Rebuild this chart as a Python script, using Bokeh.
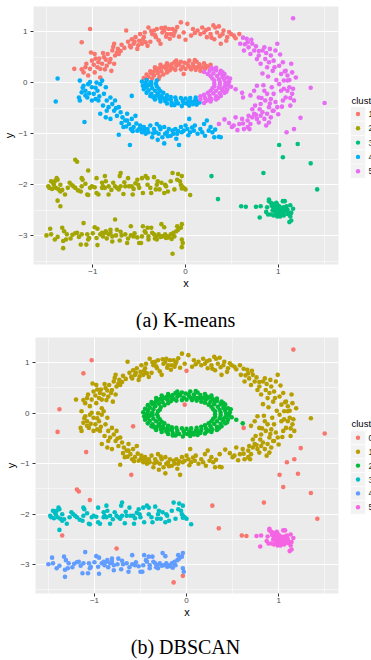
from bokeh.plotting import figure
from bokeh.layouts import column, row
from bokeh.models import FixedTicker, Range1d
from bokeh.embed import file_html
from bokeh.resources import INLINE
from bokeh.core.properties import value

# ---------------- data (x, y) ----------------
outer_ring_k1 = [(-1.20,0.27),(-1.10,0.20),(-1.05,0.14),(-1.07,0.37),(-1.01,0.43),(-1.02,0.59),(-0.98,0.56),(-0.95,0.30),(-0.94,0.40),(-0.92,0.27),(-0.90,0.37),(-0.88,0.50),(-0.85,0.33),(-0.84,0.56),(-0.81,0.46),(-0.79,0.63),(-0.77,0.76),(-0.76,0.53),(-0.74,0.59),(-0.72,0.56),(-0.77,0.37),(-0.80,0.23),(-0.92,0.10),(-0.98,0.20),(-1.03,0.27),(-0.64,1.02),(-0.59,0.69),(-0.58,0.85),(-0.56,0.76),(-0.54,0.89),(-0.52,0.66),(-0.50,0.82),(-0.49,0.95),(-0.47,0.76),(-0.45,0.89),(-0.43,0.79),(-0.41,0.72),(-0.40,1.08),(-0.36,0.95),(-0.34,1.02),(-0.32,0.89),(-0.31,1.05),(-0.27,0.76),(-0.23,1.02),(-0.22,1.08),(-0.20,0.95),(-0.18,1.05),(-0.16,0.95),(-0.14,1.05),(-0.13,0.92),(-0.11,1.02),(-0.05,1.18),(-0.02,0.98),(0.02,1.15),(0.13,1.02),(0.16,0.95),(0.20,0.98),(0.23,0.89),(0.25,1.05),(0.27,0.95),(0.30,1.12),(0.32,1.08),(0.31,0.85),(0.34,0.98),(0.38,0.76),(0.40,0.95),(0.41,1.02),(0.45,0.89),(0.49,0.95),(0.52,0.92),(0.58,0.95),(-0.60,0.72),(-0.55,0.80),(-0.46,0.84),(-0.38,0.80),(-0.33,0.93),(-0.25,0.98),(-0.21,0.90),(-0.12,0.98),(-0.86,0.45),(-0.93,0.47),(-0.70,0.62),(-0.78,0.70),(-0.66,0.68),(0.08,1.05),(0.18,1.08),(0.36,1.10),(0.44,0.82),(0.06,0.92),(-0.07,0.90),(-1.12,0.26),(-0.99,0.35),(-0.87,0.26),(-0.62,0.80),(-0.44,0.98),(-0.29,0.83),(-0.17,0.86),(-0.09,1.09),(0.10,0.97),(0.22,1.03),(0.28,0.88),(0.37,0.91),(0.47,0.99),(-0.69,0.74),(-0.89,0.58),(-0.97,0.47),(-1.08,0.30),(-0.82,0.40),(-0.73,0.66),(-0.51,0.73),(-0.37,1.01),(0.54,0.87),(-0.26,1.07)]

outer_ring_k4 = [(-1.14,0.04),(-1.12,-0.19),(-1.10,-0.06),(-1.08,-0.16),(-1.06,-0.29),(-1.05,-0.03),(-1.03,0.01),(-1.01,-0.09),(-0.99,-0.22),(-0.97,-0.32),(-0.95,-0.16),(-0.94,-0.35),(-0.92,-0.03),(-0.90,0.04),(-0.88,-0.22),(-0.86,-0.09),(-0.85,-0.35),(-0.83,-0.48),(-0.81,-0.29),(-0.79,-0.42),(-0.77,-0.55),(-0.76,-0.35),(-0.74,-0.65),(-0.72,-0.48),(-0.70,-0.58),(-0.68,-0.68),(-0.67,-0.87),(-0.65,-0.74),(-0.63,-0.61),(-0.61,-0.81),(-0.59,-0.91),(-0.58,-0.71),(-0.56,-0.87),(-0.54,-0.65),(-0.52,-0.94),(-0.50,-0.91),(-0.49,-0.84),(-0.47,-0.97),(-0.45,-0.87),(-0.43,-1.00),(-0.41,-0.91),(-0.40,-0.97),(-0.38,-0.84),(-0.36,-1.07),(-0.34,-0.91),(-0.32,-0.97),(-0.31,-0.81),(-0.29,-1.00),(-0.27,-0.91),(-0.25,-1.07),(-0.23,-0.87),(-0.22,-1.00),(-0.20,-0.97),(-0.18,-0.91),(-0.16,-1.04),(-0.14,-0.94),(-0.13,-1.00),(-0.11,-0.91),(-0.09,-1.00),(-0.05,-0.87),(-0.04,-0.97),(-0.02,-0.94),(0.00,-0.84),(0.02,-0.91),(0.04,-0.71),(0.05,-0.97),(0.09,-0.94),(0.13,-1.00),(0.16,-0.91),(0.20,-0.81),(0.23,-0.74),(0.25,-0.94),(0.27,-0.87),(0.29,-0.97),(0.31,-1.07),(0.36,-1.06),(0.38,-1.07),(-0.92,-0.61),(-0.86,-0.68),(-0.85,-0.55),(-0.81,-0.71),(-1.14,-0.35),(-1.15,-0.29),(-1.01,-0.35),(-0.23,-1.19),(-0.07,-1.22),(-0.72,-1.02),(-0.47,-0.90),(-0.10,-1.10),(-0.30,-1.12),(0.10,-0.84),(-0.63,-0.74),(-0.97,-0.10),(-1.08,-0.25),(-1.04,-0.21),(-0.93,-0.27),(-0.89,-0.45),(-0.75,-0.50),(-0.69,-0.79),(-0.57,-0.95),(-0.53,-0.80),(-0.44,-0.93),(-0.35,-0.99),(-0.28,-0.86),(-0.19,-1.05),(-0.08,-0.95),(0.03,-1.03),(0.07,-0.88),(0.18,-0.97),(0.32,-0.92),(-0.64,-0.86),(-1.11,-0.10),(-0.96,0.00),(0.21,-1.04)]

outer_ring_k5 = [(0.59,0.76),(0.63,0.63),(0.67,0.79),(0.68,0.69),(0.70,0.56),(0.72,0.76),(0.74,0.63),(0.77,0.46),(0.79,0.53),(0.81,0.37),(0.83,0.63),(0.85,0.69),(0.86,0.46),(0.88,0.30),(0.90,0.40),(0.92,0.53),(0.94,0.23),(0.95,0.43),(0.97,0.63),(0.99,0.76),(1.01,0.33),(1.03,0.17),(1.05,0.40),(1.06,0.04),(1.08,0.23),(1.10,0.14),(1.12,-0.09),(1.14,0.37),(1.15,-0.22),(1.17,-0.35),(1.19,0.10),(0.74,-0.16),(0.77,-0.06),(0.79,-0.29),(0.81,-0.42),(0.85,-0.16),(0.86,-0.35),(0.88,-0.22),(0.90,-0.48),(0.92,-0.32),(0.94,-0.55),(0.95,-0.22),(0.97,-0.38),(0.99,-0.48),(1.01,-0.03),(1.03,-0.16),(1.05,-0.35),(1.06,-0.12),(1.08,-0.29),(1.10,-0.16),(0.54,-0.68),(0.58,-0.81),(0.61,-0.71),(0.63,-0.91),(0.67,-0.74),(0.68,-0.65),(0.70,-0.81),(0.72,-0.68),(0.74,-0.61),(0.77,-0.71),(0.79,-0.78),(0.81,-0.65),(0.83,-0.58),(0.85,-0.71),(0.88,-0.61),(0.92,-0.68),(0.36,-0.81),(0.42,-0.72),(0.50,-0.87),(0.52,-0.84),(0.67,-0.87),(0.90,-0.78),(0.95,-0.55),(1.35,-0.10),(1.10,0.04),(0.75,-0.45),(0.84,-0.05),(0.98,0.05),(0.89,0.12),(0.80,-0.52),(0.93,-0.09),(1.13,-0.45),(1.00,-0.62),(0.72,-0.52),(0.66,0.86),(0.76,0.71),(0.64,0.75),(0.87,0.58),(0.62,0.88),(0.71,0.84),(0.79,0.62),(0.91,0.66),(1.02,0.55),(1.07,0.22),(1.15,0.20),(1.12,0.05),(0.96,0.30),(0.83,0.18),(1.16,-0.12),(1.04,-0.47),(0.91,-0.41),(0.82,-0.30),(0.69,-0.91),(0.62,-0.80),(0.47,-0.79),(0.56,-0.93),(0.87,-0.84),(0.76,-0.63),(1.13,-0.30),(0.70,-0.25)]

inner_ring_k1 = [(0.21,0.27),(0.27,0.35),(0.16,0.23),(0.22,0.33),(0.15,0.30),(0.20,0.38),(0.11,0.25),(0.15,0.36),(0.09,0.31),(0.12,0.41),(0.06,0.26),(0.08,0.37),(0.03,0.33),(0.04,0.43),(0.00,0.27),(-0.01,0.39),(-0.03,0.31),(-0.05,0.41),(-0.05,0.26),(-0.08,0.37),(-0.10,0.33),(-0.12,0.40),(-0.11,0.25),(-0.15,0.36),(-0.16,0.30),(-0.20,0.38),(-0.17,0.24),(-0.22,0.32),(-0.21,0.27),(-0.27,0.35),(-0.20,0.20),(-0.28,0.28),(-0.26,0.22),(-0.33,0.30),(-0.24,0.16),(-0.33,0.24),(-0.30,0.19),(-0.38,0.22),(-0.28,0.12),(-0.37,0.18),(-0.34,0.14),(-0.42,0.16),(-0.29,0.07),(-0.40,0.11),(-0.36,0.08),(-0.45,0.09),(0.12,0.30),(-0.07,0.35),(-0.18,0.33),(0.02,0.37),(-0.25,0.30),(-0.35,0.20),(0.18,0.30),(-0.10,0.43),(0.10,0.44),(-0.30,0.27),(-0.42,0.06),(0.05,0.30),(-0.14,0.28),(0.24,0.31)]

inner_ring_k4 = [(-0.31,0.04),(-0.42,0.05),(-0.37,0.01),(-0.47,0.02),(-0.32,-0.02),(-0.43,-0.01),(-0.37,-0.04),(-0.46,-0.06),(-0.31,-0.07),(-0.42,-0.08),(-0.36,-0.11),(-0.45,-0.13),(-0.29,-0.12),(-0.40,-0.15),(-0.33,-0.16),(-0.42,-0.20),(-0.27,-0.17),(-0.37,-0.22),(-0.30,-0.21),(-0.38,-0.26),(-0.24,-0.20),(-0.33,-0.27),(-0.26,-0.26),(-0.33,-0.33),(-0.20,-0.25),(-0.28,-0.31),(-0.21,-0.30),(-0.27,-0.37),(-0.16,-0.28),(-0.22,-0.36),(-0.16,-0.33),(-0.20,-0.41),(-0.11,-0.29),(-0.15,-0.39),(-0.10,-0.35),(-0.12,-0.44),(-0.05,-0.30),(-0.08,-0.41),(-0.03,-0.36),(-0.04,-0.46),(0.00,-0.31),(0.01,-0.41),(0.03,-0.37),(0.04,-0.45),(0.05,-0.30),(0.08,-0.42),(0.10,-0.35),(0.12,-0.43),(0.11,-0.29),(0.15,-0.39),(-0.40,-0.05),(-0.35,-0.28),(-0.10,-0.40),(0.06,-0.38),(-0.20,-0.33),(-0.44,-0.10),(-0.25,-0.30),(0.12,-0.36),(-0.38,0.00),(-0.15,-0.44),(-0.02,-0.40),(-0.30,-0.25)]

inner_ring_k5 = [(0.16,-0.33),(0.20,-0.40),(0.16,-0.27),(0.22,-0.36),(0.21,-0.30),(0.27,-0.37),(0.20,-0.24),(0.28,-0.32),(0.26,-0.26),(0.33,-0.33),(0.24,-0.20),(0.33,-0.27),(0.30,-0.21),(0.38,-0.26),(0.27,-0.16),(0.37,-0.21),(0.33,-0.16),(0.42,-0.20),(0.29,-0.11),(0.40,-0.15),(0.36,-0.10),(0.45,-0.13),(0.31,-0.07),(0.42,-0.08),(0.37,-0.04),(0.46,-0.05),(0.31,-0.02),(0.43,-0.01),(0.37,0.01),(0.47,0.02),(0.31,0.04),(0.42,0.05),(0.36,0.07),(0.45,0.10),(0.29,0.08),(0.40,0.12),(0.34,0.13),(0.42,0.17),(0.27,0.13),(0.37,0.18),(0.30,0.18),(0.38,0.23),(0.24,0.17),(0.33,0.24),(0.26,0.23),(0.33,0.29),(0.20,0.21),(0.28,0.29),(0.44,-0.18),(0.35,-0.30),(0.48,0.08),(0.40,0.20),(0.25,-0.34),(0.30,0.26),(0.46,-0.02),(0.39,-0.12),(0.54,-0.13),(0.61,-0.20),(0.49,-0.08),(0.41,0.09)]

band_upper = [(-1.48,-2.03),(-1.47,-2.06),(-1.45,-1.93),(-1.43,-1.96),(-1.42,-2.00),(-1.41,-1.93),(-1.39,-1.87),(-1.38,-1.90),(-1.40,-2.06),(-1.37,-2.09),(-1.35,-2.13),(-1.35,-2.00),(-1.30,-2.19),(-1.27,-2.06),(-1.25,-1.96),(-1.23,-2.00),(-1.21,-2.03),(-1.19,-2.06),(-1.12,-1.87),(-1.11,-1.90),(-1.12,-2.03),(-1.13,-2.13),(-1.06,-2.19),(-1.05,-2.20),(-1.03,-2.06),(-1.01,-2.03),(-0.96,-1.87),(-0.96,-2.16),(-0.94,-2.19),(-0.90,-1.96),(-0.90,-2.06),(-0.89,-2.03),(-0.87,-1.83),(-0.86,-1.93),(-0.87,-2.06),(-0.83,-2.03),(-0.83,-2.19),(-0.78,-1.96),(-0.76,-2.03),(-0.74,-2.06),(-0.72,-2.09),(-0.71,-1.83),(-0.70,-1.77),(-0.70,-2.03),(-0.67,-2.18),(-0.65,-2.03),(-0.62,-1.87),(-0.61,-2.03),(-0.58,-2.03),(-0.56,-2.08),(-0.57,-2.19),(-1.38,-2.31),(-0.52,-1.90),(-0.51,-2.00),(-0.50,-2.06),(-0.47,-1.87),(-0.46,-2.16),(-0.43,-1.83),(-0.41,-1.87),(-0.41,-2.00),(-0.38,-2.06),(-0.37,-2.16),(-0.34,-1.85),(-0.32,-2.09),(-0.31,-2.00),(-0.30,-1.93),(-0.28,-2.09),(-0.23,-2.16),(-0.22,-2.00),(-0.21,-2.03),(-0.19,-2.13),(-0.16,-1.93),(-0.14,-1.77),(-0.12,-2.09),(-0.09,-1.90),(-0.08,-1.79),(-0.06,-1.93),(-0.05,-2.00),(-0.04,-2.03),(-0.04,-2.07),(-0.02,-2.06),(0.00,-2.09),(0.05,-2.20),(-0.04,-1.83),(-1.44,-2.08),(-1.33,-2.10),(-0.98,-2.05),(-0.80,-2.10),(-0.66,-1.95),(-0.54,-1.97),(-0.26,-1.96),(-1.16,-2.11),(-1.08,-1.98)]

band_lower = [(-1.50,-2.99),(-1.45,-2.97),(-1.46,-2.86),(-1.41,-3.07),(-1.33,-2.84),(-1.31,-2.91),(-1.28,-2.97),(-1.29,-3.07),(-1.32,-3.10),(-1.32,-3.24),(-1.24,-3.05),(-1.19,-2.95),(-1.17,-2.94),(-1.12,-2.97),(-1.13,-3.17),(-1.10,-2.75),(-1.06,-2.97),(-1.07,-3.17),(-1.04,-3.04),(-1.05,-3.07),(-0.98,-2.83),(-0.95,-2.86),(-0.96,-3.04),(-0.95,-3.18),(-0.92,-2.97),(-0.90,-2.94),(-0.89,-3.01),(-0.87,-2.94),(-0.86,-2.91),(-0.83,-2.97),(-0.81,-2.88),(-0.81,-2.94),(-0.79,-3.01),(-0.79,-3.11),(-0.74,-2.88),(-0.75,-2.99),(-0.71,-3.09),(-0.69,-2.99),(-0.63,-3.14),(-0.65,-2.97),(-0.59,-2.81),(-0.59,-2.99),(-0.56,-3.01),(-0.52,-3.03),(-0.50,-3.14),(-0.48,-3.14),(-0.47,-3.01),(-0.46,-2.81),(-0.44,-2.91),(-0.43,-2.94),(-0.41,-2.84),(-0.40,-3.01),(-0.40,-3.07),(-0.37,-2.84),(-0.36,-2.94),(-0.34,-2.97),(-0.33,-3.05),(-0.32,-3.01),(-0.31,-3.07),(-0.29,-2.97),(-0.26,-2.77),(-0.23,-2.83),(-0.25,-3.01),(-0.22,-2.97),(-0.21,-3.04),(-0.20,-3.01),(-0.18,-3.03),(-0.16,-2.97),(-0.14,-2.97),(-0.13,-2.94),(-0.12,-3.01),(-0.10,-2.91),(-0.09,-2.81),(-0.08,-2.88),(-0.05,-2.84),(-0.04,-2.77),(-0.04,-3.07),(-0.03,-3.14),(-1.38,-3.02),(-1.22,-2.98),(-1.00,-2.95),(-0.85,-3.05),(-0.70,-2.92),(-0.55,-2.95),(-0.27,-3.02),(-0.15,-3.06),(-1.15,-3.02),(-0.62,-3.05)]

blob = [(0.90,-2.29),(0.90,-2.32),(0.92,-2.35),(0.94,-2.37),(0.96,-2.39),(0.98,-2.35),(0.99,-2.39),(1.05,-2.32),(1.07,-2.32),(0.95,-2.45),(0.97,-2.42),(0.99,-2.44),(1.01,-2.42),(1.03,-2.45),(0.88,-2.44),(0.87,-2.53),(0.89,-2.58),(0.92,-2.58),(0.96,-2.52),(0.98,-2.55),(0.99,-2.62),(1.01,-2.55),(1.03,-2.58),(1.05,-2.55),(1.06,-2.60),(1.08,-2.45),(1.10,-2.49),(1.10,-2.57),(1.12,-2.55),(1.13,-2.40),(1.14,-2.55),(1.13,-2.62),(1.16,-2.47),(1.12,-2.73),(1.14,-2.70),(0.81,-2.42),(0.76,-2.43),(0.80,-2.64),(0.94,-2.50),(1.00,-2.48),(1.04,-2.50),(0.97,-2.47),(1.02,-2.62),(1.07,-2.52),(0.93,-2.41),(1.09,-2.42),(0.95,-2.60),(1.06,-2.44)]

# DBSCAN noise points (cluster 0), split by the K-means cluster they got
noise_k1 = [(-1.03,1.05),(-1.12,0.79),(-0.02,0.17),(0.00,0.84)]
noise_k2 = [(-1.19,-1.51),(-1.17,-1.55),(-1.05,-1.72),(-1.35,-2.42),(-0.76,-2.68),(-0.14,-3.35),(-0.04,-3.22)]
noise_k3 = [(1.01,-1.22),(1.21,-1.20),(1.05,-1.46),(1.35,-1.58),(1.42,-2.09),(0.84,-1.77),(0.28,-1.83),(0.35,-2.28),(0.60,-2.42),(0.65,-2.43)]
noise_k4 = [(-1.38,0.08),(-1.40,-0.37),(-1.09,-0.77),(-0.58,-0.26),(-0.60,-1.22)]
noise_k5 = [(0.62,-0.29),(1.16,1.26),(1.50,-0.40),(1.24,-0.69),(1.17,-0.91),(1.09,-0.97)]

kmeans_labels = ["1", "2", "3", "4", "5"]
kmeans_colors = ["#F8766D", "#A3A500", "#00BF7D", "#00B0F6", "#E76BF3"]
dbscan_labels = ["0", "1", "2", "3", "4", "5"]
dbscan_colors = ["#F8766D", "#B79F00", "#00BA38", "#00BFC4", "#619CFF", "#F564E3"]

x_ticks = [-1, 0, 1]
x_minor = [-1.5, -0.5, 0.5, 1.5]
y_ticks = [-3, -2, -1, 0, 1]
y_minor = [-3.5, -2.5, -1.5, -0.5, 0.5]

legend_title = "cluster"
captions = ["(a) K-means", "(b) DBSCAN"]

kmeans_groups = [
    outer_ring_k1 + inner_ring_k1 + noise_k1,
    band_upper + band_lower + noise_k2,
    blob + noise_k3,
    outer_ring_k4 + inner_ring_k4 + noise_k4,
    outer_ring_k5 + inner_ring_k5 + noise_k5,
]
dbscan_groups = [
    noise_k1 + noise_k2 + noise_k3 + noise_k4 + noise_k5,
    outer_ring_k1 + outer_ring_k4 + outer_ring_k5,
    inner_ring_k1 + inner_ring_k4 + inner_ring_k5,
    band_upper,
    band_lower,
    blob,
]

SANS = "Liberation Sans"
SERIF = "Liberation Serif"
MAIN_W = 350
LEG_W = 371 - MAIN_W
PANEL_H = 300
CAP_H = 30


def pixel_figure(w, h, top=0, bottom=0):
    # y runs downward in pixels of the figure (frame may be inset by top/bottom borders)
    f = figure(width=w, height=h, x_range=Range1d(0, w), y_range=Range1d(h - bottom, top),
               min_border_left=0, min_border_right=0, min_border_top=top,
               min_border_bottom=bottom,
               x_axis_location=None, y_axis_location=None,
               output_backend="svg", toolbar_location=None)
    f.outline_line_color = None
    f.background_fill_color = "white"
    f.border_fill_color = "white"
    f.grid.visible = False
    return f


def panel(groups, colors, left, top, fh, yr):
    p = figure(width=MAIN_W, height=PANEL_H, x_range=Range1d(-1.64, 1.65), y_range=Range1d(*yr),
               min_border_left=left, min_border_right=12, min_border_top=top,
               min_border_bottom=PANEL_H - top - fh,
               output_backend="svg", toolbar_location=None)
    p.background_fill_color = "#EBEBEB"
    p.border_fill_color = "white"
    p.outline_line_color = None
    p.xaxis.ticker = FixedTicker(ticks=x_ticks, minor_ticks=x_minor)
    p.yaxis.ticker = FixedTicker(ticks=y_ticks, minor_ticks=y_minor)
    p.xaxis.axis_label = "x"
    p.yaxis.axis_label = "y"
    for ax in (p.xaxis, p.yaxis):
        ax.axis_line_color = None
        ax.major_tick_line_color = "#333333"
        ax.major_tick_out = 3
        ax.major_tick_in = 0
        ax.minor_tick_line_color = None
        ax.major_label_text_font = SANS
        ax.major_label_text_font_size = "8px"
        ax.major_label_text_color = "#4D4D4D"
        ax.axis_label_text_font = SANS
        ax.axis_label_text_font_size = "11px"
        ax.axis_label_text_font_style = "normal"
        ax.axis_label_text_color = "#000000"
    p.xaxis.major_label_standoff = 0
    p.xaxis.axis_label_standoff = 0
    p.yaxis.major_label_standoff = 2
    p.yaxis.axis_label_standoff = 0
    p.grid.grid_line_color = "white"
    p.grid.grid_line_width = 1.0
    p.grid.minor_grid_line_color = "white"
    p.grid.minor_grid_line_width = 0.5
    for col, pts in zip(colors, groups):
        xs = [q[0] for q in pts]
        ys = [q[1] for q in pts]
        p.scatter(xs, ys, size=4.6, fill_color=col, line_color=None)
    return p


def legend_fig(labels, colors, top, fh, title_y, key_y0, key_step):
    # frame is aligned with the neighbouring panel's frame, so match its borders
    f = pixel_figure(LEG_W, PANEL_H, top=top, bottom=PANEL_H - top - fh)
    n = len(labels)
    ys = [key_y0 + key_step * k for k in range(n)]
    f.text(x=[1], y=[title_y], text=[legend_title], text_font=value(SANS),
           text_font_size=value("9.5px"), text_baseline="middle", text_align="left",
           text_color="#000000")
    f.rect(x=[7.5] * n, y=ys, width=15, height=key_step, fill_color="#F2F2F2",
           line_color="white", line_width=0.6)
    f.scatter(x=[7.5] * n, y=ys, size=4.4, fill_color=colors, line_color=None)
    f.text(x=[18] * n, y=ys, text=labels, text_font=value(SANS),
           text_font_size=value("8.5px"), text_baseline="middle", text_align="left",
           text_color="#1A1A1A")
    return f


def caption_fig(text, cy):
    f = pixel_figure(371, CAP_H)
    f.text(x=[185], y=[cy], text=[text], text_font=value(SERIF),
           text_font_size=value("20px"), text_baseline="middle", text_align="center",
           text_color="#000000")
    return f


p1 = panel(kmeans_groups, kmeans_colors, 33, 6, 258, (-3.56, 1.49))
l1 = legend_fig(kmeans_labels, kmeans_colors, 6, 258, 100, 113.5, 14.3)
c1 = caption_fig(captions[0], 19)

p2 = panel(dbscan_groups, dbscan_colors, 35, 7, 256, (-3.57, 1.50))
l2 = legend_fig(dbscan_labels, dbscan_colors, 7, 256, 93, 107.3, 13.9)
c2 = caption_fig(captions[1], 16)

layout = column(row(p1, l1, spacing=0), c1, row(p2, l2, spacing=0), c2, spacing=0)
open("out.html", "w").write(file_html(layout, INLINE))
